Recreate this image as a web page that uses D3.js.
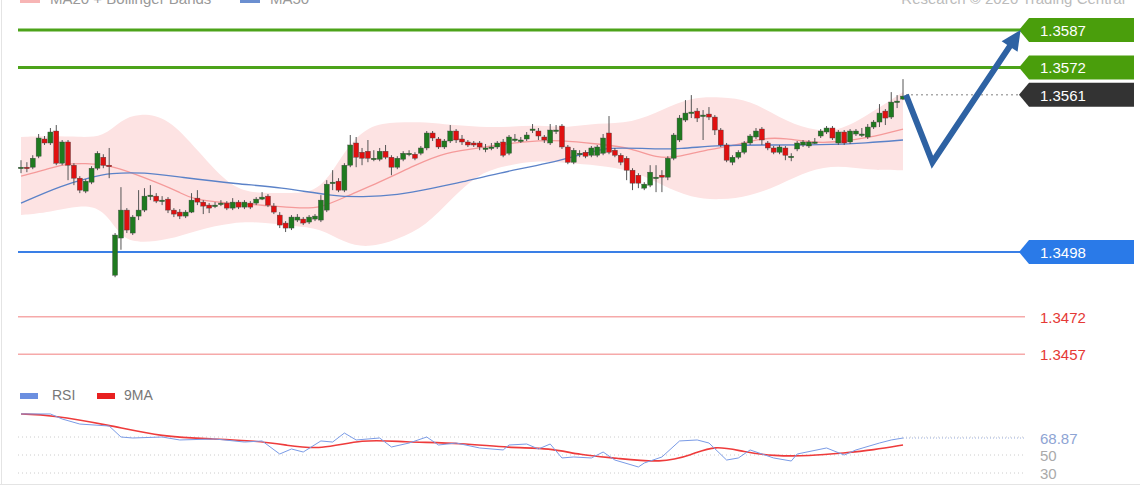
<!DOCTYPE html>
<html>
<head>
<meta charset="utf-8">
<script src="https://cdn.jsdelivr.net/npm/d3@7/dist/d3.min.js"></script>
<style>
  body { margin: 0; background: #fff; }
  svg { font-family: "Liberation Sans", Arial, sans-serif; }
</style>
</head>
<body>
<div id="chart"></div>
<script>
// candles (USD/CAD style quote)
const opens = [1.35316,1.35320,1.35320,1.35364,1.35433,1.35417,1.35465,1.35336,1.35421,1.35328,
1.35276,1.35224,1.35260,1.35316,1.35360,1.35328,1.34887,1.35036,1.35148,1.35056,
1.35124,1.35148,1.35204,1.35204,1.35184,1.35192,1.35148,1.35140,1.35124,1.35140,
1.35196,1.35180,1.35168,1.35168,1.35176,1.35176,1.35156,1.35180,1.35160,1.35176,
1.35176,1.35192,1.35204,1.35164,1.35128,1.35096,1.35076,1.35108,1.35112,1.35100,
1.35112,1.35108,1.35148,1.35260,1.35264,1.35228,1.35328,1.35417,1.35380,1.35384,
1.35356,1.35352,1.35384,1.35360,1.35320,1.35352,1.35376,1.35372,1.35376,1.35397,
1.35457,1.35433,1.35401,1.35425,1.35465,1.35433,1.35421,1.35417,1.35417,1.35397,
1.35401,1.35401,1.35421,1.35376,1.35433,1.35429,1.35433,1.35473,1.35465,1.35441,
1.35417,1.35469,1.35485,1.35401,1.35340,1.35376,1.35380,1.35368,1.35368,1.35376,
1.35457,1.35388,1.35368,1.35356,1.35308,1.35288,1.35236,1.35248,1.35280,1.35288,
1.35280,1.35356,1.35429,1.35509,1.35541,1.35545,1.35529,1.35533,1.35521,1.35469,
1.35409,1.35340,1.35360,1.35380,1.35417,1.35441,1.35473,1.35417,1.35397,1.35380,
1.35397,1.35364,1.35393,1.35409,1.35405,1.35421,1.35445,1.35461,1.35477,1.35417,
1.35461,1.35421,1.35453,1.35453,1.35441,1.35481,1.35501,1.35545,1.35521,1.35581,
1.35593];
const closes = [1.35320,1.35316,1.35356,1.35437,1.35417,1.35461,1.35336,1.35421,1.35328,1.35276,
1.35228,1.35264,1.35316,1.35376,1.35328,1.35324,1.35048,1.35148,1.35068,1.35120,
1.35148,1.35204,1.35208,1.35184,1.35188,1.35148,1.35132,1.35124,1.35140,1.35188,
1.35180,1.35164,1.35156,1.35168,1.35176,1.35156,1.35180,1.35160,1.35180,1.35160,
1.35192,1.35200,1.35168,1.35140,1.35088,1.35076,1.35120,1.35120,1.35096,1.35120,
1.35124,1.35188,1.35252,1.35260,1.35228,1.35328,1.35409,1.35360,1.35356,1.35356,
1.35356,1.35384,1.35360,1.35320,1.35356,1.35376,1.35376,1.35356,1.35397,1.35457,
1.35437,1.35401,1.35425,1.35465,1.35429,1.35421,1.35409,1.35409,1.35401,1.35397,
1.35401,1.35417,1.35368,1.35441,1.35433,1.35429,1.35449,1.35473,1.35445,1.35429,
1.35469,1.35469,1.35401,1.35340,1.35388,1.35376,1.35364,1.35397,1.35401,1.35437,
1.35380,1.35368,1.35340,1.35308,1.35256,1.35256,1.35252,1.35300,1.35280,1.35280,
1.35356,1.35449,1.35517,1.35537,1.35541,1.35517,1.35529,1.35521,1.35469,1.35409,
1.35348,1.35360,1.35380,1.35417,1.35445,1.35465,1.35429,1.35397,1.35380,1.35401,
1.35368,1.35364,1.35417,1.35421,1.35421,1.35421,1.35465,1.35477,1.35437,1.35461,
1.35417,1.35465,1.35465,1.35453,1.35481,1.35501,1.35537,1.35517,1.35581,1.35585,
1.35605];
const highs = [1.35348,1.35340,1.35368,1.35453,1.35445,1.35477,1.35489,1.35429,1.35429,1.35336,
1.35284,1.35272,1.35324,1.35384,1.35372,1.35397,1.35056,1.35240,1.35156,1.35128,
1.35228,1.35236,1.35248,1.35216,1.35204,1.35200,1.35156,1.35152,1.35148,1.35216,
1.35228,1.35188,1.35176,1.35180,1.35188,1.35184,1.35196,1.35188,1.35188,1.35184,
1.35200,1.35220,1.35212,1.35176,1.35140,1.35104,1.35128,1.35132,1.35120,1.35128,
1.35132,1.35208,1.35268,1.35308,1.35276,1.35336,1.35449,1.35441,1.35397,1.35429,
1.35388,1.35397,1.35409,1.35368,1.35364,1.35384,1.35388,1.35380,1.35405,1.35465,
1.35465,1.35441,1.35433,1.35489,1.35473,1.35449,1.35429,1.35425,1.35425,1.35413,
1.35417,1.35425,1.35433,1.35449,1.35453,1.35441,1.35461,1.35493,1.35477,1.35449,
1.35493,1.35489,1.35493,1.35409,1.35397,1.35388,1.35388,1.35405,1.35409,1.35453,
1.35525,1.35397,1.35376,1.35364,1.35316,1.35296,1.35260,1.35328,1.35328,1.35308,
1.35364,1.35457,1.35529,1.35589,1.35609,1.35557,1.35549,1.35561,1.35529,1.35477,
1.35417,1.35368,1.35388,1.35425,1.35453,1.35477,1.35481,1.35425,1.35405,1.35409,
1.35405,1.35376,1.35425,1.35429,1.35429,1.35437,1.35473,1.35485,1.35485,1.35469,
1.35469,1.35473,1.35473,1.35477,1.35493,1.35509,1.35573,1.35553,1.35621,1.35609,
1.35673];
const lows = [1.35296,1.35300,1.35312,1.35356,1.35409,1.35409,1.35328,1.35328,1.35268,1.35248,
1.35216,1.35216,1.35252,1.35308,1.35316,1.35276,1.34879,1.34989,1.35056,1.35048,
1.35108,1.35140,1.35188,1.35176,1.35168,1.35136,1.35120,1.35112,1.35116,1.35136,
1.35168,1.35132,1.35136,1.35156,1.35164,1.35148,1.35148,1.35152,1.35152,1.35152,
1.35168,1.35188,1.35160,1.35132,1.35076,1.35060,1.35068,1.35100,1.35088,1.35092,
1.35104,1.35100,1.35140,1.35228,1.35220,1.35220,1.35320,1.35320,1.35328,1.35340,
1.35344,1.35344,1.35352,1.35288,1.35312,1.35344,1.35364,1.35348,1.35368,1.35388,
1.35425,1.35393,1.35393,1.35417,1.35417,1.35409,1.35401,1.35401,1.35388,1.35380,
1.35388,1.35393,1.35360,1.35368,1.35421,1.35417,1.35425,1.35457,1.35429,1.35417,
1.35409,1.35453,1.35393,1.35332,1.35332,1.35360,1.35356,1.35360,1.35360,1.35368,
1.35372,1.35360,1.35328,1.35268,1.35228,1.35236,1.35228,1.35240,1.35220,1.35220,
1.35268,1.35348,1.35421,1.35501,1.35517,1.35501,1.35429,1.35509,1.35449,1.35401,
1.35340,1.35328,1.35352,1.35372,1.35409,1.35433,1.35409,1.35388,1.35372,1.35372,
1.35348,1.35344,1.35384,1.35401,1.35397,1.35413,1.35437,1.35453,1.35429,1.35409,
1.35409,1.35413,1.35445,1.35441,1.35433,1.35473,1.35481,1.35489,1.35513,1.35557,
1.35589];

// moving averages and Bollinger bands, sampled at candle indices
const ma20Idx = [0,4,7,11,15,19,23,27,29,35,41,47,51,55,61,67,72,79,86,92,98,104,108,112,116,122,126,130,135,139,144,150];
const ma20 = [1.35284,1.35308,1.35332,1.35336,1.35328,1.35296,1.35260,1.35220,1.35192,1.35176,1.35168,1.35156,1.35156,1.35200,1.35260,1.35328,
1.35380,1.35401,1.35425,1.35429,1.35413,1.35397,1.35356,1.35360,1.35388,1.35409,1.35437,1.35437,1.35417,1.35421,1.35437,1.35473];
const ma50Idx = [0,7,12,15,21,27,37,44,53,58,64,70,75,81,90,96,100,107,112,119,127,136,144,150];
const ma50 = [1.35176,1.35248,1.35280,1.35296,1.35300,1.35280,1.35252,1.35240,1.35204,1.35200,1.35208,1.35236,
1.35260,1.35296,1.35336,1.35376,1.35401,1.35393,1.35393,1.35409,1.35409,1.35409,1.35417,1.35429];
const bandIdx = [0,5,10,14,17,20,25,30,36,41,46,51,55,59,64,69,73,78,83,88,93,98,104,109,114,119,124,129,134,139,144,150];
const bandUpper = [1.35441,1.35445,1.35441,1.35441,1.35509,1.35537,1.35521,1.35388,1.35228,1.35216,1.35216,1.35220,1.35388,1.35489,1.35501,1.35501,
1.35489,1.35481,1.35481,1.35489,1.35477,1.35497,1.35497,1.35549,1.35601,1.35601,1.35589,1.35517,1.35469,1.35461,1.35529,1.35621];
const bandLower = [1.35128,1.35140,1.35168,1.35156,1.35036,1.35016,1.35028,1.35068,1.35100,1.35100,1.35084,1.35076,1.35016,1.34996,1.35028,1.35088,
1.35188,1.35300,1.35328,1.35348,1.35336,1.35328,1.35308,1.35248,1.35196,1.35188,1.35204,1.35248,1.35308,1.35328,1.35308,1.35308];

// RSI panel
const rsiIdx = [0,5,7,10,15,17,19,24,27,33,38,41,44,46,48,51,53,55,57,61,63,66,69,71,74,78,82,83,86,88,90,92,94,97,99,101,105,106,109,112,115,117,120,122,124,128,131,132,137,140,142,146,148,150];
const rsi = [95.6,95.6,90,84.4,82.2,70,68.9,70,66.7,67.8,64.4,65.6,51.1,56.7,53.3,65.6,64.4,74.4,66.7,68.9,58.9,63.3,70,61.1,63.3,57.8,55.6,61.1,62.2,56.7,
62.2,46.7,47.8,46.7,53.3,44.4,36.7,41.1,47.8,65.6,66.7,63.3,44.4,46.7,55.6,46.7,43.3,51.1,57.8,50,55.6,63.3,66.7,68.87];
const rsiMaIdx = [0,5,15,24,33,40,45,51,58,65,75,83,90,95,101,109,114,118,123,128,134,140,145,150];
const rsiMa = [95.6,94.4,83.3,70,67.8,65.6,61.1,55.6,67.8,64.4,63.3,57.8,57.8,50,46.7,41.1,50,61.1,53.3,48.9,48.9,52.2,55.6,61.1];
const rsiLevels = [70, 50, 30];

const resistances = [1.3587, 1.3572];
const support = 1.3498;
const weakSupports = [1.3472, 1.3457];
const lastPrice = 1.3561;
const lastRsi = 68.87;
const scenario = [[150.5, 1.3561], [155, 1.3534], [170, 1.3587]];

const W = 1140, H = 500;
const svg = d3.select("#chart").append("svg").attr("width", W).attr("height", H);

const x = d3.scaleLinear().domain([0, 150]).range([21, 903]);
const y = d3.scaleLinear().domain([1.3587, 1.3498]).range([30, 252]);
const yr = d3.scaleLinear().domain([70, 30]).range([437, 473]);

// frame
svg.append("line").attr("x1", 1.5).attr("x2", 1.5).attr("y1", 0).attr("y2", 484).attr("stroke", "#e4e4e4");
svg.append("line").attr("x1", 0).attr("x2", W).attr("y1", 484.5).attr("y2", 484.5).attr("stroke", "#e4e4e4");

// header (cut at top)
svg.append("rect").attr("x", 20).attr("y", -4).attr("width", 20).attr("height", 7).attr("fill", "#f7b5b5");
svg.append("text").attr("x", 50).attr("y", 4).attr("font-size", 15).attr("fill", "#999").text("MA20 + Bollinger Bands");
svg.append("rect").attr("x", 240).attr("y", -4).attr("width", 20).attr("height", 7).attr("fill", "#6b8fd0");
svg.append("text").attr("x", 270).attr("y", 4).attr("font-size", 15).attr("fill", "#999").text("MA50");
svg.append("text").attr("x", 1125).attr("y", 4).attr("text-anchor", "end").attr("font-size", 15).attr("fill", "#bbb").text("Research © 2020 Trading Central");

// bollinger band
const band = bandIdx.map((d, i) => ({ i: d, u: bandUpper[i], l: bandLower[i] }));
svg.append("path").datum(band)
  .attr("d", d3.area().x(d => x(d.i)).y0(d => y(d.l)).y1(d => y(d.u)).curve(d3.curveBasis))
  .attr("fill", "#fde3e3");

// level lines
resistances.forEach(v => {
  svg.append("line").attr("x1", 18).attr("x2", 1025).attr("y1", y(v)).attr("y2", y(v)).attr("stroke", "#4ca31a").attr("stroke-width", 3);
});
svg.append("line").attr("x1", 18).attr("x2", 1025).attr("y1", y(support)).attr("y2", y(support)).attr("stroke", "#3a7fe6").attr("stroke-width", 2);
weakSupports.forEach(v => {
  svg.append("line").attr("x1", 18).attr("x2", 1025).attr("y1", y(v)).attr("y2", y(v)).attr("stroke", "#f6a9a9").attr("stroke-width", 1.5);
  svg.append("text").attr("x", 1040).attr("y", y(v) + 6).attr("font-size", 15).attr("fill", "#e53935").text(v.toFixed(4));
});
svg.append("line").attr("x1", x(150) + 3).attr("x2", 1025).attr("y1", y(lastPrice)).attr("y2", y(lastPrice))
  .attr("stroke", "#aaa").attr("stroke-width", 1.5).attr("stroke-dasharray", "2,3");

function tag(v, fill) {
  const yy = y(v);
  svg.append("path")
    .attr("d", `M1019,${yy} L1029,${yy - 12} L1134,${yy - 12} L1134,${yy + 12} L1029,${yy + 12} Z`)
    .attr("fill", fill);
  svg.append("text").attr("x", 1040).attr("y", yy + 6).attr("font-size", 15).attr("fill", "#fff").text(v.toFixed(4));
}
resistances.forEach(v => tag(v, "#4a9e0c"));
tag(lastPrice, "#333");
tag(support, "#2a7ae8");

// moving averages
const line = d3.line().x(d => x(d[0])).y(d => y(d[1])).curve(d3.curveBasis);
svg.append("path").datum(ma20Idx.map((d, i) => [d, ma20[i]])).attr("d", line)
  .attr("fill", "none").attr("stroke", "#f59a9a").attr("stroke-width", 1.3);
svg.append("path").datum(ma50Idx.map((d, i) => [d, ma50[i]])).attr("d", line)
  .attr("fill", "none").attr("stroke", "#5b82c8").attr("stroke-width", 1.3);

// candles
const candles = opens.map((o, i) => ({ i, o, c: closes[i], h: highs[i], l: lows[i] }));
const g = svg.append("g");
g.selectAll("line.wick").data(candles).enter().append("line")
  .attr("x1", d => x(d.i)).attr("x2", d => x(d.i))
  .attr("y1", d => y(d.h)).attr("y2", d => y(d.l))
  .attr("stroke", "#555").attr("stroke-width", 1);
g.selectAll("rect").data(candles).enter().append("rect")
  .attr("x", d => x(d.i) - 2.5)
  .attr("y", d => y(Math.max(d.o, d.c)))
  .attr("width", 5)
  .attr("height", d => Math.max(1.5, Math.abs(y(d.o) - y(d.c))))
  .attr("fill", d => d.c >= d.o ? "#1f7a1f" : "#e01010")
  .attr("stroke", "#444").attr("stroke-width", 0.4);

// scenario arrow
const sc = scenario.map(d => [x(d[0]), y(d[1])]);
const ax = sc[2][0], ay = sc[2][1];
const ang = Math.atan2(ay - sc[1][1], ax - sc[1][0]);
const tail = [ax - 16 * Math.cos(ang), ay - 16 * Math.sin(ang)];
svg.append("path").attr("d", d3.line()([sc[0], sc[1], tail]))
  .attr("fill", "none").attr("stroke", "#2e62a3").attr("stroke-width", 6).attr("stroke-linejoin", "miter");
const p = (r, a) => [ax + r * Math.cos(a), ay + r * Math.sin(a)];
svg.append("path").attr("d", d3.line()([[ax, ay], p(22, ang + Math.PI - 0.45), p(22, ang + Math.PI + 0.45)]) + "Z")
  .attr("fill", "#2e62a3");

// RSI panel
svg.append("rect").attr("x", 20).attr("y", 393).attr("width", 18).attr("height", 6).attr("fill", "#6b8fe0");
svg.append("text").attr("x", 52).attr("y", 400).attr("font-size", 14).attr("fill", "#777").text("RSI");
svg.append("rect").attr("x", 97).attr("y", 393).attr("width", 18).attr("height", 6).attr("fill", "#e82020");
svg.append("text").attr("x", 124).attr("y", 400).attr("font-size", 14).attr("fill", "#777").text("9MA");

rsiLevels.forEach(v => {
  svg.append("line").attr("x1", 18).attr("x2", 1025).attr("y1", yr(v)).attr("y2", yr(v))
    .attr("stroke", "#ccc").attr("stroke-dasharray", "1,3");
});
svg.append("text").attr("x", 1040).attr("y", yr(lastRsi) + 6).attr("font-size", 15).attr("fill", "#8ea4d4").text(lastRsi.toFixed(2));
[50, 30].forEach(v => {
  svg.append("text").attr("x", 1040).attr("y", yr(v) + 6).attr("font-size", 15).attr("fill", "#aaa").text(v);
});
svg.append("line").attr("x1", x(150)).attr("x2", 1025).attr("y1", yr(lastRsi)).attr("y2", yr(lastRsi))
  .attr("stroke", "#9fb3e0").attr("stroke-dasharray", "1,2");

const rline = d3.line().x(d => x(d[0])).y(d => yr(d[1]));
svg.append("path").datum(rsiMaIdx.map((d, i) => [d, rsiMa[i]])).attr("d", rline.curve(d3.curveBasis))
  .attr("fill", "none").attr("stroke", "#ee3b3b").attr("stroke-width", 1.6);
svg.append("path").datum(rsiIdx.map((d, i) => [d, rsi[i]])).attr("d", d3.line().x(d => x(d[0])).y(d => yr(d[1])))
  .attr("fill", "none").attr("stroke", "#7a9be6").attr("stroke-width", 1);
</script>
</body>
</html>
